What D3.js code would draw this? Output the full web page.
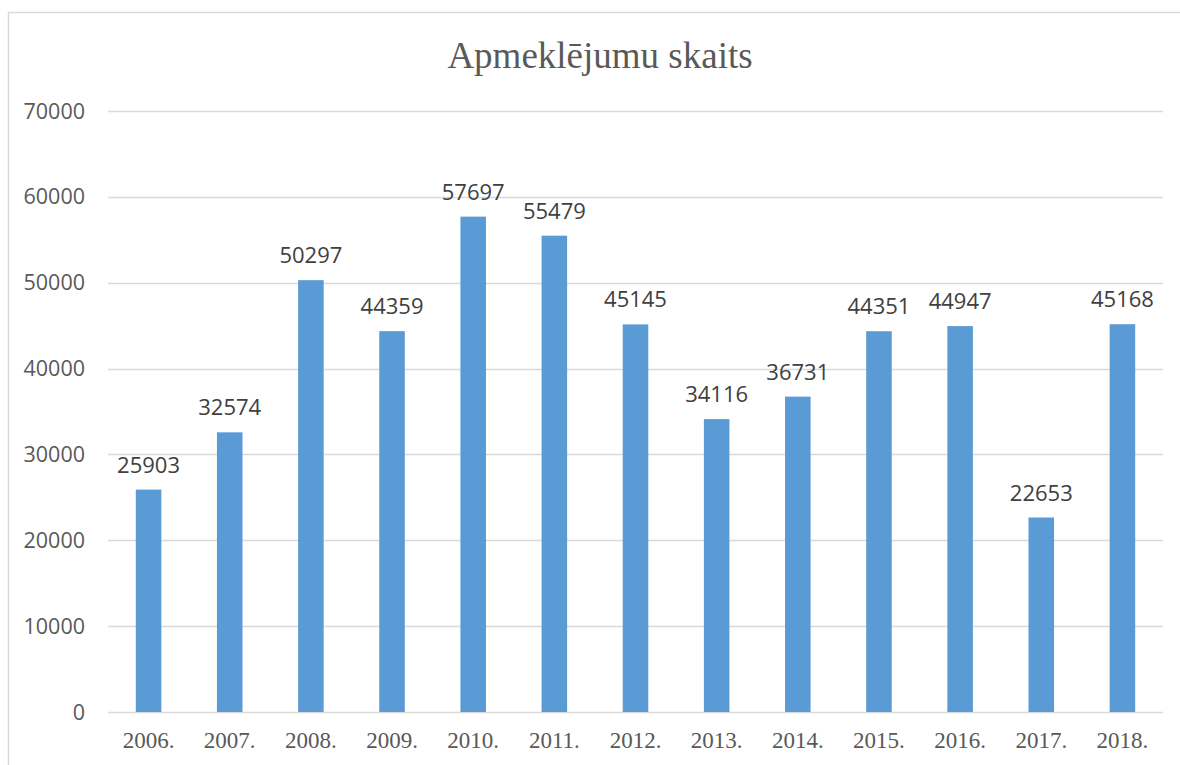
<!DOCTYPE html>
<html>
<head>
<meta charset="utf-8">
<script src="https://cdn.jsdelivr.net/npm/d3@7"></script>
<style>
  body { margin: 0; background: #fff; }
</style>
</head>
<body>
<svg id="chart"></svg>
<script>
const years = ["2006.", "2007.", "2008.", "2009.", "2010.", "2011.", "2012.",
               "2013.", "2014.", "2015.", "2016.", "2017.", "2018."];
const visits = [25903, 32574, 50297, 44359, 57697, 55479, 45145,
                34116, 36731, 44351, 44947, 22653, 45168];
const yTicks = [0, 10000, 20000, 30000, 40000, 50000, 60000, 70000];

const width = 1180;
const height = 765;
const margin = { top: 111, right: 17, bottom: 53, left: 108 };

const svg = d3.select("#chart")
    .attr("width", width)
    .attr("height", height);

// chart border
svg.append("rect")
    .attr("x", 8.5)
    .attr("y", 12.5)
    .attr("width", 1190)
    .attr("height", 800)
    .attr("fill", "none")
    .attr("stroke", "#d9d9d9")
    .attr("stroke-width", 1.5);

const x = d3.scaleBand()
    .domain(years)
    .range([margin.left, width - margin.right])
    .paddingInner(0.685)
    .paddingOuter(0.3425);

const y = d3.scaleLinear()
    .domain([0, 70000])
    .range([height - margin.bottom, margin.top]);

// gridlines
svg.append("g")
    .selectAll("line")
    .data(yTicks)
    .enter()
    .append("line")
    .attr("x1", margin.left)
    .attr("x2", width - margin.right)
    .attr("y1", d => Math.round(y(d)) + 0.5)
    .attr("y2", d => Math.round(y(d)) + 0.5)
    .attr("stroke", "#d9d9d9")
    .attr("stroke-width", 1.3);

// y labels
svg.append("g")
    .selectAll("text")
    .data(yTicks)
    .enter()
    .append("text")
    .attr("x", 85)
    .attr("y", d => y(d))
    .attr("dy", "0.35em")
    .attr("text-anchor", "end")
    .attr("font-family", "'Open Sans', sans-serif")
    .attr("font-size", 21.5)
    .attr("fill", "#595959")
    .text(d => d);

// bars
svg.append("g")
    .selectAll("rect")
    .data(visits)
    .enter()
    .append("rect")
    .attr("x", (d, i) => x(years[i]))
    .attr("y", d => y(d))
    .attr("width", x.bandwidth())
    .attr("height", d => y(0) - y(d))
    .attr("fill", "#5b9bd5");

// value labels
svg.append("g")
    .selectAll("text")
    .data(visits)
    .enter()
    .append("text")
    .attr("x", (d, i) => x(years[i]) + x.bandwidth() / 2)
    .attr("y", d => y(d) - 17)
    .attr("text-anchor", "middle")
    .attr("font-family", "'Open Sans', sans-serif")
    .attr("font-size", 22)
    .attr("fill", "#404040")
    .text(d => d);

// x labels
svg.append("g")
    .selectAll("text")
    .data(years)
    .enter()
    .append("text")
    .attr("x", d => x(d) + x.bandwidth() / 2)
    .attr("y", 748)
    .attr("text-anchor", "middle")
    .attr("font-family", "'Liberation Serif', 'Times New Roman', serif")
    .attr("font-size", 23)
    .attr("fill", "#595959")
    .text(d => d);

// title
svg.append("text")
    .attr("x", 600)
    .attr("y", 68)
    .attr("text-anchor", "middle")
    .attr("font-family", "'Liberation Serif', 'Times New Roman', serif")
    .attr("font-size", 37)
    .attr("fill", "#595959")
    .text("Apmeklējumu skaits");
</script>
</body>
</html>
